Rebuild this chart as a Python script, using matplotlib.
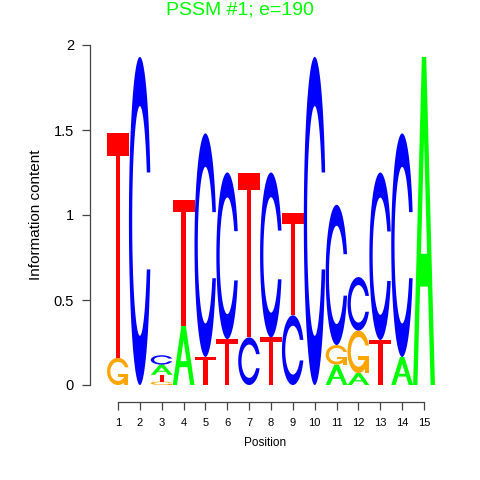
import numpy as np
import matplotlib
matplotlib.use("Agg")
import matplotlib.pyplot as plt
from matplotlib.path import Path
from matplotlib.patches import PathPatch

plt.rcParams['font.family'] = ['Liberation Sans', 'DejaVu Sans']

# letter heights per position, listed bottom -> top
positions = list(range(1, 16))
stacks = [
    [("G", 0.16), ("T", 1.32)],
    [("C", 1.93)],
    [("G", 0.02), ("T", 0.04), ("A", 0.06), ("C", 0.055)],
    [("A", 0.35), ("T", 0.74)],
    [("T", 0.165), ("C", 1.315)],
    [("T", 0.27), ("C", 0.98)],
    [("C", 0.28), ("T", 0.965)],
    [("T", 0.28), ("C", 0.97)],
    [("C", 0.41), ("T", 0.60)],
    [("C", 1.93)],
    [("A", 0.12), ("G", 0.115), ("C", 0.825)],
    [("A", 0.07), ("G", 0.25), ("C", 0.315)],
    [("T", 0.265), ("C", 0.985)],
    [("A", 0.165), ("C", 1.315)],
    [("A", 1.93)],
]
colors = {"A": "#00FF00", "C": "#0000FF", "G": "#FFA500", "T": "#FF0000"}


# glyph outlines in a unit box (seqLogo style letters)
def c_ring():
    a1 = np.linspace(0.3 + np.pi / 2, np.pi, 100)
    a2 = np.linspace(np.pi, 1.5 * np.pi, 100)
    xl = np.r_[0.5 + 0.5 * np.sin(a1), 0.5 + 0.5 * np.sin(a2)]
    yl = np.r_[0.5 + 0.5 * np.cos(a1), 0.5 + 0.5 * np.cos(a2)]
    x = np.r_[xl, xl[::-1]]
    y = np.r_[yl, 1 - yl[::-1]]
    xi1 = 0.5 + 0.35 * np.sin(a1)
    yi1 = 0.5 + 0.35 * np.cos(a1)
    top = (0.5 + 0.5 * np.cos(a1)).max()
    keep = yi1 <= top
    xi1, yi1 = xi1[keep], yi1[keep]
    yi1[0] = top
    xi = np.r_[xi1, 0.5 + 0.35 * np.sin(a2)]
    yi = np.r_[yi1, 0.5 + 0.35 * np.cos(a2)]
    x1 = np.r_[xi, xi[::-1]]
    y1 = np.r_[yi, 1 - yi[::-1]]
    return [np.c_[np.r_[x, x1[::-1]], np.r_[y, y1[::-1]]]]


def glyph(ch):
    if ch == "T":
        return [np.c_[[0, 1, 1, .6, .6, .4, .4, 0], [1, 1, .9, .9, 0, 0, .9, .9]]]
    if ch == "A":
        outer = np.c_[[0, .4, .6, 1, .8, .68, .32, .2, 0], [0, 1, 1, 0, 0, .3, .3, 0, 0]]
        hole = np.c_[[.36, .5, .64, .36], [.4, .75, .4, .4]][::-1]
        return [(outer, hole)]
    if ch == "C":
        return c_ring()
    if ch == "G":
        a1 = np.linspace(0.3 + np.pi / 2, np.pi, 100)
        r1 = (0.5 + 0.5 * np.sin(a1)).max()
        h1 = 0.4
        bar = np.c_[[r1, .5, .5, r1 - .2, r1 - .2, r1, r1], [h1, h1, h1 - .1, h1 - .1, 0, 0, h1]]
        return c_ring() + [bar]


def draw_letter(ax, ch, x, y, w, h, color):
    for part in glyph(ch):
        rings = part if isinstance(part, tuple) else (part,)
        verts, codes = [], []
        for r in rings:
            pts = np.c_[x + r[:, 0] * w, y + r[:, 1] * h]
            verts.extend(pts)
            codes.extend([Path.MOVETO] + [Path.LINETO] * (len(pts) - 1))
        ax.add_patch(PathPatch(Path(verts, codes), facecolor=color,
                               edgecolor="none", clip_on=False))


fig = plt.figure(figsize=(4.8, 4.8), dpi=100)
# y-axis at x=90px, ylim 0..2 between y=385px and y=45px
ax = fig.add_axes([90 / 480, 95 / 480, 350 / 480, 340 / 480])
px = 21.86
ax.set_xlim(1 - 28 / px, 1 - 28 / px + 350 / px)
ax.set_ylim(0, 2)

for pos, stack in zip(positions, stacks):
    y = 0
    for ch, h in stack:
        draw_letter(ax, ch, pos - 0.5, y, 1.0, h, colors[ch])
        y += h

for s in ["top", "right"]:
    ax.spines[s].set_visible(False)
ax.spines["left"].set_bounds(0, 2)
ax.spines["bottom"].set_bounds(1, 15)
ax.spines["bottom"].set_position(("outward", 12))
for s in ["left", "bottom"]:
    ax.spines[s].set_color("#444444")
    ax.spines[s].set_linewidth(0.9)

ax.set_yticks([0, 0.5, 1, 1.5, 2])
ax.set_yticklabels(["0", "0.5", "1", "1.5", "2"], fontsize=10.5)
ax.set_xticks(positions)
ax.set_xticklabels([str(p) for p in positions], fontsize=8)
ax.tick_params(axis="both", length=6, color="#444444", width=0.9)
ax.tick_params(axis="y", pad=5.5)
ax.tick_params(axis="x", pad=6)

ax.set_ylabel("Information content", fontsize=11)
ax.yaxis.set_label_coords(-0.135, 0.5)
ax.set_xlabel("Position", fontsize=8.5, labelpad=6)
fig.text(0.5, 1 - 10 / 480, "PSSM #1; e=190", color="#00FF00", fontsize=14,
         ha="center", va="center")

fig.savefig("out.png", dpi=100)
